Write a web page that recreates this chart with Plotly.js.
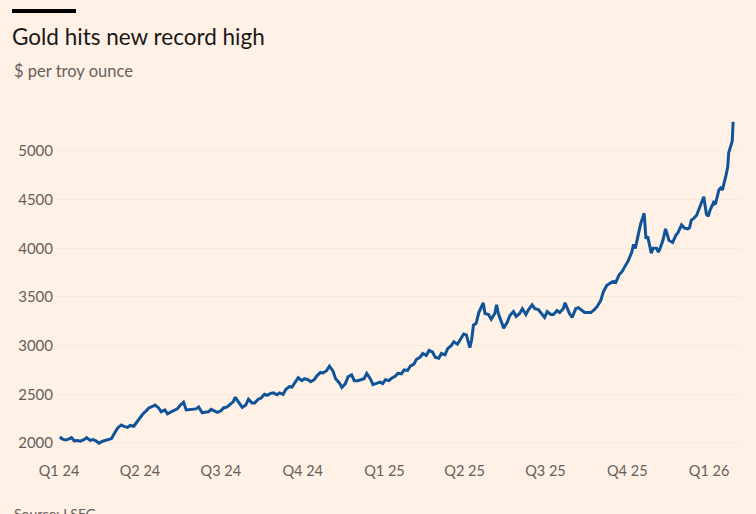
<!DOCTYPE html>
<html>
<head>
<meta charset="utf-8">
<script src="https://cdn.plot.ly/plotly-3.0.1.min.js"></script>
<style>
  html, body { margin: 0; padding: 0; background: #FFF1E5; }
  #wrap { position: relative; width: 756px; height: 514px; overflow: hidden; }
  #bar { position: absolute; left: 12px; top: 9px; width: 64px; height: 4px; background: #000; }
  #chart { position: absolute; left: 0; top: 0; width: 756px; height: 514px; }
</style>
</head>
<body>
<div id="wrap">
  <div id="chart"></div>
  <div id="bar"></div>
</div>
<script>
// Gold price, $ per troy ounce
const dates = [
  "2024-01-02","2024-01-04","2024-01-08","2024-01-11","2024-01-15","2024-01-18","2024-01-22","2024-01-25","2024-01-29",
  "2024-02-01","2024-02-05","2024-02-08","2024-02-12","2024-02-15","2024-02-19","2024-02-22","2024-02-26","2024-02-29",
  "2024-03-04","2024-03-07","2024-03-11","2024-03-14","2024-03-18","2024-03-21","2024-03-25","2024-03-28",
  "2024-04-01","2024-04-04","2024-04-08","2024-04-11","2024-04-15","2024-04-18","2024-04-22","2024-04-25","2024-04-29",
  "2024-05-02","2024-05-06","2024-05-09","2024-05-13","2024-05-16","2024-05-20","2024-05-23","2024-05-27","2024-05-30",
  "2024-06-03","2024-06-06","2024-06-10","2024-06-13","2024-06-17","2024-06-20","2024-06-24","2024-06-27",
  "2024-07-01","2024-07-04","2024-07-08","2024-07-11","2024-07-15","2024-07-17","2024-07-22","2024-07-25","2024-07-29",
  "2024-08-01","2024-08-05","2024-08-08","2024-08-12","2024-08-15","2024-08-19","2024-08-22","2024-08-26","2024-08-29",
  "2024-09-02","2024-09-05","2024-09-09","2024-09-12","2024-09-16","2024-09-19","2024-09-23","2024-09-26","2024-09-30",
  "2024-10-03","2024-10-07","2024-10-10","2024-10-14","2024-10-17","2024-10-21","2024-10-24","2024-10-28","2024-10-31",
  "2024-11-04","2024-11-07","2024-11-11","2024-11-14","2024-11-18","2024-11-21","2024-11-25","2024-11-28",
  "2024-12-02","2024-12-05","2024-12-09","2024-12-12","2024-12-16","2024-12-19","2024-12-23","2024-12-27","2024-12-30",
  "2025-01-02","2025-01-06","2025-01-09","2025-01-13","2025-01-16","2025-01-20","2025-01-23","2025-01-27","2025-01-30",
  "2025-02-03","2025-02-06","2025-02-10","2025-02-13","2025-02-17","2025-02-20","2025-02-24","2025-02-27",
  "2025-03-03","2025-03-06","2025-03-10","2025-03-13","2025-03-17","2025-03-20","2025-03-24","2025-03-27","2025-03-31",
  "2025-04-03","2025-04-07","2025-04-09","2025-04-11","2025-04-14","2025-04-17","2025-04-22","2025-04-24","2025-04-28",
  "2025-05-01","2025-05-05","2025-05-07","2025-05-09","2025-05-13","2025-05-15","2025-05-19","2025-05-22","2025-05-26","2025-05-29",
  "2025-06-02","2025-06-05","2025-06-09","2025-06-12","2025-06-16","2025-06-19","2025-06-23","2025-06-26","2025-06-30",
  "2025-07-03","2025-07-07","2025-07-10","2025-07-14","2025-07-17","2025-07-21","2025-07-23","2025-07-28","2025-07-31",
  "2025-08-04","2025-08-07","2025-08-11","2025-08-14","2025-08-18","2025-08-21","2025-08-25","2025-08-28",
  "2025-09-01","2025-09-04","2025-09-08","2025-09-11","2025-09-15","2025-09-18","2025-09-22","2025-09-25","2025-09-29",
  "2025-10-02","2025-10-06","2025-10-08","2025-10-10","2025-10-13","2025-10-16","2025-10-20","2025-10-22","2025-10-24","2025-10-28","2025-10-30",
  "2025-11-03","2025-11-05","2025-11-07","2025-11-10","2025-11-13","2025-11-17","2025-11-19","2025-11-21","2025-11-25","2025-11-27",
  "2025-12-01","2025-12-04","2025-12-08","2025-12-10","2025-12-12","2025-12-15","2025-12-18","2025-12-22","2025-12-24","2025-12-26","2025-12-29","2025-12-31",
  "2026-01-02","2026-01-06","2026-01-08","2026-01-12","2026-01-14","2026-01-16","2026-01-20","2026-01-22","2026-01-23","2026-01-26","2026-01-27","2026-01-28"
];
const prices = [
  2064,2043,2030,2037,2055,2022,2025,2018,2033,
  2055,2026,2034,2020,1998,2018,2025,2030,2045,
  2110,2155,2185,2170,2160,2180,2172,2210,
  2260,2295,2330,2360,2375,2390,2360,2320,2340,
  2300,2320,2335,2350,2385,2420,2340,2345,2345,
  2350,2370,2310,2315,2320,2345,2330,2315,
  2330,2360,2370,2390,2425,2470,2400,2365,2390,
  2450,2410,2410,2450,2460,2500,2490,2510,2515,
  2495,2515,2500,2550,2580,2575,2630,2670,2640,
  2660,2650,2630,2650,2690,2725,2720,2745,2790,
  2740,2660,2620,2570,2610,2680,2700,2640,
  2640,2650,2660,2715,2660,2600,2615,2625,2610,
  2650,2640,2665,2685,2715,2710,2750,2745,2790,
  2810,2860,2880,2920,2900,2950,2935,2880,
  2870,2920,2905,2970,3000,3040,3015,3060,3120,
  3110,2980,3060,3210,3230,3340,3440,3330,3320,
  3270,3330,3420,3330,3240,3180,3240,3310,3350,3300,
  3330,3380,3320,3370,3420,3380,3370,3340,3290,
  3350,3320,3320,3360,3340,3380,3440,3330,3290,
  3380,3390,3360,3340,3340,3340,3370,3400,
  3460,3550,3620,3640,3660,3650,3730,3760,3820,
  3870,3960,4040,4000,4110,4250,4360,4100,4120,3950,4000,
  4000,3960,4000,4080,4200,4080,4070,4060,4140,4160,
  4240,4210,4200,4210,4290,4310,4340,4440,4490,4530,4350,4330,
  4390,4470,4450,4600,4620,4600,4750,4840,4980,5060,5100,5300
];
const tickDates = ["2024-01-01","2024-04-01","2024-07-01","2024-10-01","2025-01-01","2025-04-01","2025-07-01","2025-10-01","2026-01-01"];
const tickLabels = ["Q1 24","Q2 24","Q3 24","Q4 24","Q1 25","Q2 25","Q3 25","Q4 25","Q1 26"];
const yTicks = [2000,2500,3000,3500,4000,4500,5000];

const trace = {
  x: dates, y: prices, type: 'scatter', mode: 'lines',
  line: { color: '#0F5499', width: 3 },
  hoverinfo: 'skip'
};

const FONT = 'Lato, "Open Sans", sans-serif';
const layout = {
  width: 756, height: 514,
  paper_bgcolor: '#FFF1E5', plot_bgcolor: '#FFF1E5',
  margin: { l: 56, r: 14, t: 110, b: 54 },
  showlegend: false,
  font: { family: FONT, color: '#66605C', size: 14 },
  title: {
    text: 'Gold hits new record high',
    x: 12/756, xanchor: 'left', xref: 'container',
    y: 1 - 37/514, yanchor: 'middle', yref: 'container',
    font: { family: FONT, size: 22.5, color: '#1A1817' }
  },
  annotations: [
    { text: '$ per troy ounce', xref: 'paper', yref: 'paper',
      x: (12 - 56)/686, y: 1 + (110 - 71)/350, xanchor: 'left', yanchor: 'middle', showarrow: false,
      font: { family: FONT, size: 16.5, color: '#66605C' } },
    { text: 'Source: LSEG', xref: 'paper', yref: 'paper',
      x: (12 - 56)/686, y: -(513 - 460)/350, xanchor: 'left', yanchor: 'middle', showarrow: false,
      font: { family: FONT, size: 14, color: '#66605C' } }
  ],
  xaxis: {
    type: 'date',
    range: ['2023-12-28 14:00', '2026-02-07'],
    tickvals: tickDates, ticktext: tickLabels,
    showgrid: false, zeroline: false, showline: false, ticks: '',
    tickfont: { family: FONT, size: 14.5, color: '#66605C' },
    fixedrange: true
  },
  yaxis: {
    range: [1825, 5421],
    tickvals: yTicks,
    showgrid: true, gridcolor: '#F9EADD', gridwidth: 1,
    zeroline: false, showline: false, ticks: '',
    tickfont: { family: FONT, size: 15, color: '#66605C' },
    ticklabelstandoff: 2,
    fixedrange: true
  }
};

Plotly.newPlot('chart', [trace], layout, { displayModeBar: false, staticPlot: true });
</script>
</body>
</html>
